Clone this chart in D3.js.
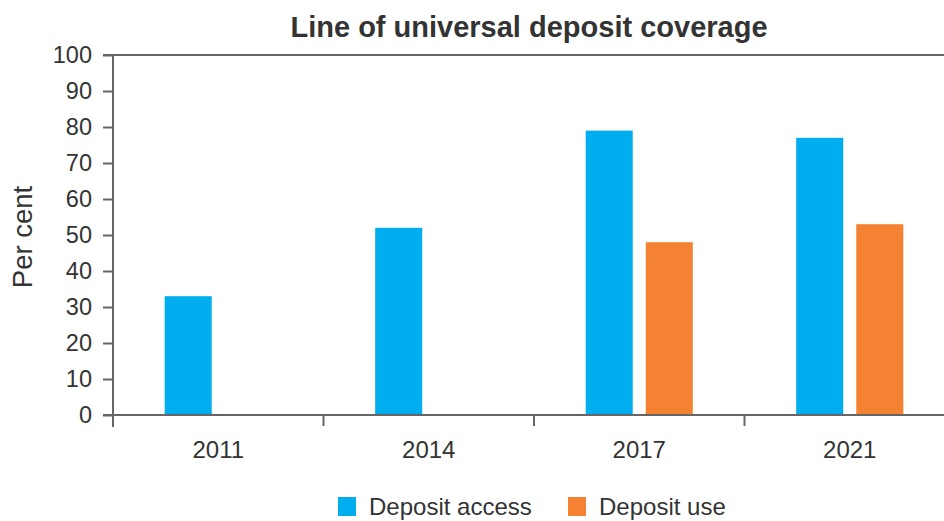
<!DOCTYPE html>
<html lang="en">
    <head>
        <meta charset="utf-8">
        <title>Line of universal deposit coverage</title>
        <script src="https://d3js.org/d3.v7.min.js"></script>
        <style type="text/css">
            body { margin: 0; background: #fff; }
            svg text { font-family: "Liberation Sans", Arial, sans-serif; fill: #333; }
        </style>
    </head>
    <body>
        <script type="text/javascript">

            //data
            const years = ["2011", "2014", "2017", "2021"];
            const seriesNames = ["Deposit access", "Deposit use"];
            const depositAccess = [33, 52, 79, 77];
            const depositUse = [null, null, 48, 53];
            const yTicks = [0, 10, 20, 30, 40, 50, 60, 70, 80, 90, 100];
            const colors = ["#00aeef", "#f58233"];

            //consts
            const w = 944;
            const h = 521;
            const plotLeft = 113, plotTop = 55, plotBottom = 415, plotRight = 955;

            const rows = years.map((y, i) => ({year: y, values: [depositAccess[i], depositUse[i]]}));

            const svg = d3.select("body")
                          .append("svg")
                          .attr("width", w)
                          .attr("height", h);

            //scales
            const xScale = d3.scaleBand()
                             .domain(years)
                             .range([plotLeft, plotRight])
                             .padding(0);

            const xSub = d3.scaleBand()
                           .domain([0, 1])
                           .range([0, xScale.bandwidth()])
                           .paddingInner(0.217)
                           .paddingOuter(0.86);

            const yScale = d3.scaleLinear()
                             .domain([0, 100])
                             .range([plotBottom, plotTop]);

            //title
            svg.append("text")
               .attr("x", 529)
               .attr("y", 37)
               .attr("text-anchor", "middle")
               .style("font-size", "29px")
               .style("font-weight", "bold")
               .text("Line of universal deposit coverage");

            //top line at 100
            svg.append("line")
               .attr("x1", plotLeft - 10)
               .attr("x2", w)
               .attr("y1", yScale(100))
               .attr("y2", yScale(100))
               .attr("stroke", "#666")
               .attr("stroke-width", 2);

            //bars
            const groups = svg.selectAll("g.year")
                              .data(rows)
                              .enter()
                              .append("g")
                              .attr("class", "year")
                              .attr("transform", d => "translate(" + xScale(d.year) + ",0)");

            groups.selectAll("rect")
                  .data(d => d.values.map((v, i) => ({v: v, i: i})).filter(d => d.v != null))
                  .enter()
                  .append("rect")
                  .attr("x", d => xSub(d.i))
                  .attr("y", d => yScale(d.v))
                  .attr("width", xSub.bandwidth())
                  .attr("height", d => yScale(0) - yScale(d.v))
                  .attr("fill", d => colors[d.i]);

            //left axis
            const leftAxis = d3.axisLeft(yScale)
                               .tickValues(yTicks)
                               .tickSize(10)
                               .tickPadding(11);

            const gy = svg.append("g")
                          .attr("transform", "translate(" + plotLeft + ",0)")
                          .call(leftAxis);
            gy.select(".domain").remove();
            gy.selectAll(".tick line").attr("stroke", "#666").attr("stroke-width", 2);
            gy.selectAll(".tick text")
              .style("font-size", "23.5px")
              .attr("fill", "#333");
            gy.append("line")
              .attr("x1", 0).attr("x2", 0)
              .attr("y1", plotTop).attr("y2", plotBottom + 12)
              .attr("stroke", "#666")
              .attr("stroke-width", 2);

            //bottom axis
            svg.append("line")
               .attr("x1", plotLeft - 10)
               .attr("x2", w)
               .attr("y1", plotBottom)
               .attr("y2", plotBottom)
               .attr("stroke", "#666")
               .attr("stroke-width", 2);

            svg.selectAll("line.xtick")
               .data(years.slice(1))
               .enter()
               .append("line")
               .attr("class", "xtick")
               .attr("x1", d => xScale(d))
               .attr("x2", d => xScale(d))
               .attr("y1", plotBottom)
               .attr("y2", plotBottom + 11)
               .attr("stroke", "#666")
               .attr("stroke-width", 2);

            svg.selectAll("text.xlabel")
               .data(years)
               .enter()
               .append("text")
               .attr("class", "xlabel")
               .attr("x", d => xScale(d) + xScale.bandwidth() / 2)
               .attr("y", 458)
               .attr("text-anchor", "middle")
               .style("font-size", "24px")
               .text(d => d);

            //y label
            svg.append("text")
               .attr("transform", "translate(32,237) rotate(-90)")
               .attr("text-anchor", "middle")
               .style("font-size", "27.5px")
               .text("Per cent");

            //legend
            const legendX = [338, 568];
            const legend = svg.selectAll("g.legend")
                              .data(seriesNames)
                              .enter()
                              .append("g")
                              .attr("class", "legend")
                              .attr("transform", (d, i) => "translate(" + legendX[i] + ",497)");

            legend.append("rect")
                  .attr("width", 18)
                  .attr("height", 19)
                  .attr("fill", (d, i) => colors[i]);

            legend.append("text")
                  .attr("x", 31)
                  .attr("y", 18)
                  .style("font-size", "24px")
                  .text(d => d);

        </script>
    </body>
</html>
